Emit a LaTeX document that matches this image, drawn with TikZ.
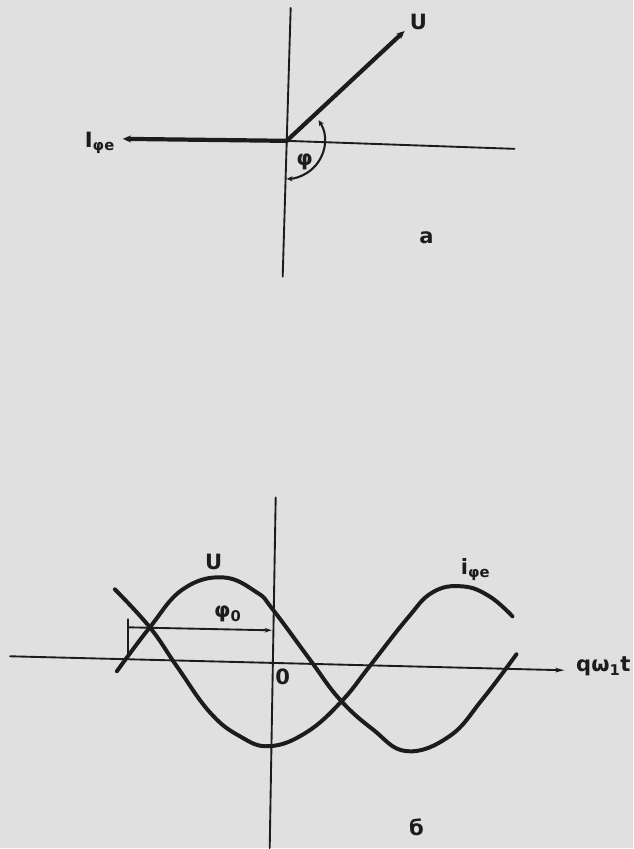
\documentclass[tikz,border=0pt]{standalone}
\usepackage{fontspec}
\setsansfont{DejaVu Sans}
\usetikzlibrary{arrows.meta}
\definecolor{paper}{HTML}{E0E0E0}
\definecolor{ink}{HTML}{1C1C1C}
\begin{document}
\begin{tikzpicture}[x=0.03cm, y=-0.03cm, line join=round, line cap=round, >={Stealth[length=7pt,width=6pt]}]
	\tikzset{every node/.style={font=\sffamily\bfseries\fontsize{18}{20}\selectfont, text=ink, inner sep=1pt}}
	\tikzset{axis/.style={draw=ink, line width=1.6pt}, vec/.style={draw=ink, line width=3.6pt, ->}, wave/.style={draw=ink, line width=3.4pt}}
	\fill[paper] (0,0) rectangle (634,849);
	% a -- phasors
	\coordinate (O) at (287,141);
	\coordinate (Vtop) at (291,8);
	\coordinate (Vbot) at (283,277);
	\coordinate (Hend) at (515,149);
	\coordinate (Uend) at (405,31);
	\coordinate (Iend) at (123,139);
	\draw[axis] (Vtop)--(Vbot) (O)--(Hend);
	\draw[vec] (O)--(Uend);
	\draw[vec] (O)--(Iend);
	\draw[draw=ink, line width=1.8pt, <->, >={Stealth[length=5pt,width=4.5pt]}] ([shift={(-33:38)}]O) arc[start angle=-33, end angle=90, radius=38];
	\node (lU) at (419,22) {U};
	\node (lI) at (100,143) {I\textsubscript{φe}};
	\node (lphi) at (305,162) {φ};
	\node (la) at (427,238) {а};
	% б -- waves
	\coordinate (Ytop) at (276,498);
	\coordinate (Ybot) at (270,849);
	\coordinate (Xbeg) at (10,657);
	\coordinate (Xend) at (565,671);
	\draw[axis] (Ytop)--(Ybot);
	\draw[axis, ->, >={Stealth[length=8pt,width=4pt]}] (Xbeg)--(Xend);
	\draw[wave] plot[smooth, tension=0.7] coordinates {(117,672) (150,628) (183,590) (223,578) (257,593) (273,610) (310,660) (340,700) (373,730) (407,752) (450,737) (483,700) (517,655)};
	\draw[wave] plot[smooth, tension=0.7] coordinates {(115,590) (150,628) (177,667) (210,713) (240,737) (270,747) (307,733) (342,702) (370,667) (407,620) (433,593) (463,587) (490,597) (513,617)};
	\coordinate (Tt) at (128,620);
	\coordinate (Tb) at (128,657);
	\coordinate (Pa) at (128,628);
	\coordinate (Pb) at (272,631);
	\draw[axis] (Tt)--(Tb);
	\draw[axis, ->, >={Stealth[length=6pt,width=4pt]}] (Pa)--(Pb);
	\node (lUw) at (214,563) {U};
	\node (liw) at (476,570) {i\textsubscript{φe}};
	\node (lphi0) at (228,615) {φ\textsubscript{0}};
	\node (lzero) at (283,678) {0};
	\node (lt) at (604,667) {qω\textsubscript{1}t};
	\node (lb) at (417,828) {б};
\end{tikzpicture}
\end{document}
